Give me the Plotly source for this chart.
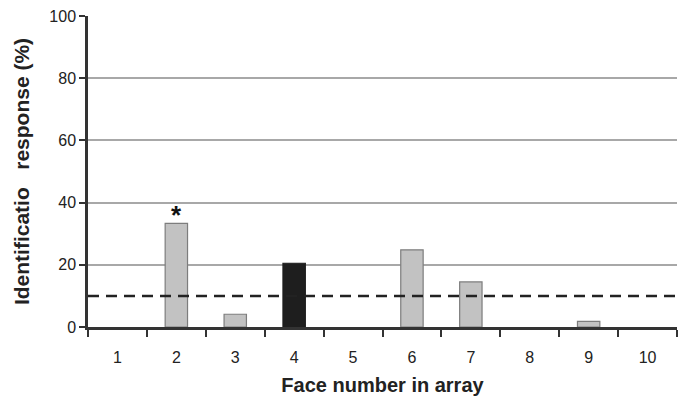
import plotly.graph_objects as go

faces = [1, 2, 3, 4, 5, 6, 7, 8, 9, 10]
tick_labels = ["1", "2", "3", "4", "5", "6", "7", "8", "9", "10"]
responses = [0, 33.3, 4.1, 20.5, 0, 24.8, 14.5, 0, 1.8, 0]
target_face = 4
chance_level = 10
significant_faces = [2]

colors = ["#1e1e1e" if f == target_face else "#c2c2c2" for f in faces]
outlines = ["#1e1e1e" if f == target_face else "#7d7d7d" for f in faces]
outline_w = [1.2 if v > 0 else 0 for v in responses]

fig = go.Figure()
fig.add_trace(go.Bar(
    x=faces, y=responses, width=0.38,
    marker=dict(color=colors, line=dict(color=outlines, width=outline_w)),
    showlegend=False,
))

fig.add_shape(type="line", xref="paper", x0=0, x1=1, yref="y", y0=chance_level, y1=chance_level,
              line=dict(color="#222222", width=2.5, dash="11px,7px"))

for f in significant_faces:
    fig.add_annotation(x=f, y=responses[f - 1], text="<b>*</b>", showarrow=False,
                       yshift=8, font=dict(size=26, color="#111111", family="Arial"))

fig.update_layout(
    width=688, height=398,
    margin=dict(l=88, r=11, t=16, b=71),
    paper_bgcolor="white", plot_bgcolor="white",
    font=dict(family="Arial, Liberation Sans, sans-serif", size=16, color="#222222"),
)
fig.update_xaxes(
    range=[0.5, 10.5], tickmode="array", tickvals=faces, ticktext=tick_labels,
    ticks="", showgrid=False, zeroline=False, automargin=False,
    showline=True, linecolor="#333333", linewidth=2.5,
    minor=dict(ticks="outside", tick0=0.5, dtick=1, ticklen=7, tickwidth=2, tickcolor="#333333"),
    ticklabelstandoff=14,
    title=dict(text="<b>Face number in array</b>", font=dict(size=20, color="#222222"), standoff=14),
)
fig.update_yaxes(
    range=[0, 100], tickvals=[0, 20, 40, 60, 80, 100],
    ticks="outside", ticklen=6, tickwidth=2, tickcolor="#333333",
    showgrid=True, gridcolor="#a8a8a8", gridwidth=1.5, zeroline=False, automargin=False,
    showline=True, linecolor="#333333", linewidth=2.5,
    title=dict(text="<b>Identificatio   response (%)</b>", font=dict(size=21, color="#222222"), standoff=14),
)

fig.write_html("out.html", config={"displayModeBar": False},
               post_script="document.body.style.margin='0px';")
